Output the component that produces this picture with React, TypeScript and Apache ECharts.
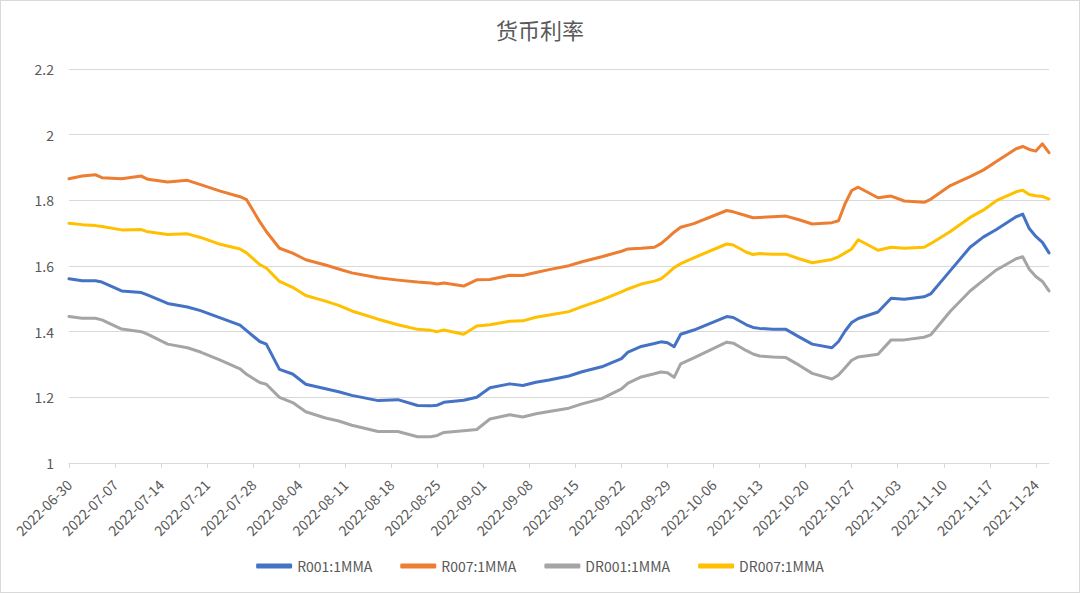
import React, { useEffect, useRef } from 'react';
import * as echarts from 'echarts';

const chartTitle = '货币利率';
const seriesNames = ['R001:1MMA', 'R007:1MMA', 'DR001:1MMA', 'DR007:1MMA'];
const seriesColors = ['#4472C4', '#ED7D31', '#A5A5A5', '#FFC000'];

// x axis: every calendar day from the first to the last date
const firstDate = '2022-06-30';
const lastDate = '2022-11-26';

// y axis ticks
const yMin = 1;
const yMax = 2.2;
const yStep = 0.2;

const sampleDates = [
  '2022-06-30', '2022-07-02', '2022-07-04', '2022-07-05', '2022-07-08',
  '2022-07-11', '2022-07-12', '2022-07-15', '2022-07-18', '2022-07-20',
  '2022-07-23', '2022-07-26', '2022-07-27', '2022-07-29', '2022-07-30',
  '2022-08-01', '2022-08-03', '2022-08-05', '2022-08-08', '2022-08-10',
  '2022-08-12', '2022-08-16', '2022-08-19', '2022-08-22', '2022-08-24',
  '2022-08-25', '2022-08-26', '2022-08-29', '2022-08-31', '2022-09-02',
  '2022-09-05', '2022-09-07', '2022-09-09', '2022-09-11', '2022-09-14',
  '2022-09-16', '2022-09-19', '2022-09-22', '2022-09-23', '2022-09-25',
  '2022-09-27', '2022-09-28', '2022-09-29', '2022-09-30', '2022-10-01',
  '2022-10-03', '2022-10-08', '2022-10-09', '2022-10-11', '2022-10-12',
  '2022-10-13', '2022-10-15', '2022-10-17', '2022-10-19', '2022-10-21',
  '2022-10-24', '2022-10-25', '2022-10-26', '2022-10-27', '2022-10-28',
  '2022-10-31', '2022-11-02', '2022-11-04', '2022-11-07', '2022-11-08',
  '2022-11-11', '2022-11-14', '2022-11-16', '2022-11-18', '2022-11-21',
  '2022-11-22', '2022-11-23', '2022-11-24', '2022-11-25', '2022-11-26',
];

const r001 = [
  1.561, 1.555, 1.555, 1.551, 1.524,
  1.519, 1.511, 1.486, 1.475, 1.464,
  1.442, 1.420, 1.403, 1.370, 1.362,
  1.285, 1.271, 1.240, 1.226, 1.217,
  1.206, 1.190, 1.193, 1.175, 1.174,
  1.176, 1.185, 1.191, 1.200, 1.229,
  1.241, 1.236, 1.246, 1.253, 1.265,
  1.278, 1.293, 1.318, 1.338, 1.355,
  1.364, 1.369, 1.366, 1.354, 1.392,
  1.405, 1.446, 1.443, 1.421, 1.413,
  1.410, 1.407, 1.407, 1.384, 1.362,
  1.351, 1.370, 1.402, 1.428, 1.440,
  1.460, 1.502, 1.499, 1.506, 1.515,
  1.586, 1.657, 1.688, 1.711, 1.750,
  1.758, 1.714, 1.690, 1.672, 1.640,
];

const r007 = [
  1.866, 1.874, 1.878, 1.869, 1.866,
  1.874, 1.864, 1.856, 1.861, 1.848,
  1.828, 1.811, 1.802, 1.735, 1.705,
  1.654, 1.639, 1.619, 1.603, 1.591,
  1.579, 1.564, 1.557, 1.551, 1.548,
  1.545, 1.548, 1.539, 1.558, 1.559,
  1.572, 1.571, 1.580, 1.589, 1.601,
  1.613, 1.628, 1.645, 1.652, 1.654,
  1.657, 1.668, 1.685, 1.703, 1.718,
  1.729, 1.769, 1.765, 1.753, 1.747,
  1.748, 1.750, 1.752, 1.741, 1.728,
  1.732, 1.738, 1.790, 1.830, 1.840,
  1.808, 1.813, 1.798, 1.794, 1.803,
  1.845, 1.872, 1.892, 1.918, 1.957,
  1.964, 1.955, 1.950, 1.972, 1.945,
];

const dr001 = [
  1.446, 1.441, 1.441, 1.436, 1.408,
  1.400, 1.392, 1.362, 1.351, 1.338,
  1.313, 1.287, 1.270, 1.245, 1.240,
  1.200, 1.184, 1.156, 1.137, 1.128,
  1.115, 1.096, 1.096, 1.080, 1.080,
  1.084, 1.093, 1.098, 1.102, 1.134,
  1.147, 1.140, 1.150, 1.157, 1.167,
  1.180, 1.196, 1.226, 1.243, 1.262,
  1.272, 1.277, 1.275, 1.261, 1.302,
  1.320, 1.368, 1.365, 1.342, 1.332,
  1.326, 1.323, 1.321, 1.298, 1.273,
  1.256, 1.268, 1.290, 1.313, 1.323,
  1.331, 1.375, 1.375, 1.383, 1.390,
  1.462, 1.524, 1.556, 1.588, 1.622,
  1.628, 1.590, 1.568, 1.553, 1.524,
];

const dr007 = [
  1.730, 1.726, 1.723, 1.720, 1.710,
  1.711, 1.704, 1.696, 1.698, 1.687,
  1.666, 1.652, 1.640, 1.604, 1.594,
  1.553, 1.535, 1.510, 1.493, 1.480,
  1.463, 1.438, 1.421, 1.407, 1.404,
  1.400, 1.405, 1.392, 1.417, 1.421,
  1.432, 1.433, 1.444, 1.451, 1.461,
  1.476, 1.497, 1.521, 1.530, 1.545,
  1.554, 1.561, 1.577, 1.595, 1.607,
  1.625, 1.667, 1.664, 1.642, 1.635,
  1.638, 1.636, 1.636, 1.622, 1.610,
  1.620, 1.628, 1.640, 1.652, 1.680,
  1.648, 1.657, 1.654, 1.657, 1.668,
  1.705, 1.748, 1.770, 1.799, 1.826,
  1.831, 1.818, 1.814, 1.812, 1.804,
];

const seriesValues = [r001, r007, dr001, dr007];

function buildDays(start: string, end: string): string[] {
  const [y, m, d] = start.split('-').map(Number);
  const out: string[] = [];
  for (let i = 0; ; i++) {
    const s = new Date(Date.UTC(y, m - 1, d + i)).toISOString().slice(0, 10);
    out.push(s);
    if (s === end || i > 1000) break;
  }
  return out;
}

const FONT = '"Noto Sans CJK SC", "Noto Sans", sans-serif';
const TEXT = '#595959';
const GRID = '#d9d9d9';

export default function App() {
  const ref = useRef<HTMLDivElement>(null);

  useEffect(() => {
    document.body.style.margin = '0';
    if (!ref.current) return;
    const chart = echarts.init(ref.current, undefined, { renderer: 'svg' });
    const days = buildDays(firstDate, lastDate);

    chart.setOption({
      animation: false,
      backgroundColor: '#ffffff',
      textStyle: { fontFamily: FONT },
      title: {
        text: chartTitle,
        left: 'center',
        top: 12,
        textStyle: { fontFamily: FONT, fontSize: 22, fontWeight: 'normal', color: TEXT },
      },
      legend: {
        top: 553,
        left: 'center',
        itemWidth: 36,
        itemHeight: 5,
        itemGap: 28,
        icon: 'roundRect',
        textStyle: { fontFamily: FONT, fontSize: 14, color: TEXT },
        data: seriesNames,
      },
      grid: { left: 68, right: 30, top: 68, bottom: 129, containLabel: false },
      xAxis: {
        type: 'category',
        data: days,
        boundaryGap: false,
        axisLine: { show: true, lineStyle: { color: GRID, width: 1 } },
        axisTick: { show: true, interval: 6, length: 5, lineStyle: { color: GRID } },
        axisLabel: {
          interval: 6,
          rotate: 45,
          margin: 19,
          color: TEXT,
          fontSize: 14,
          fontFamily: FONT,
        },
        splitLine: { show: false },
      },
      yAxis: {
        type: 'value',
        min: yMin,
        max: yMax,
        interval: yStep,
        axisLine: { show: false },
        axisTick: { show: false },
        axisLabel: {
          color: TEXT,
          fontSize: 14,
          fontFamily: FONT,
          margin: 15,
          formatter: (v: number) => String(Math.round(v * 10) / 10),
        },
        splitLine: { show: true, lineStyle: { color: GRID, width: 1 } },
      },
      series: seriesNames.map((name, k) => ({
        name,
        type: 'line',
        data: sampleDates.map((d, i) => [d, seriesValues[k][i]]),
        showSymbol: false,
        symbol: 'none',
        smooth: false,
        lineStyle: { color: seriesColors[k], width: 3, cap: 'round', join: 'round' },
        itemStyle: { color: seriesColors[k] },
      })),
    });

    return () => chart.dispose();
  }, []);

  return (
    <div
      ref={ref}
      style={{
        width: 1080,
        height: 593,
        boxSizing: 'border-box',
        border: '1px solid #d9d9d9',
      }}
    />
  );
}
